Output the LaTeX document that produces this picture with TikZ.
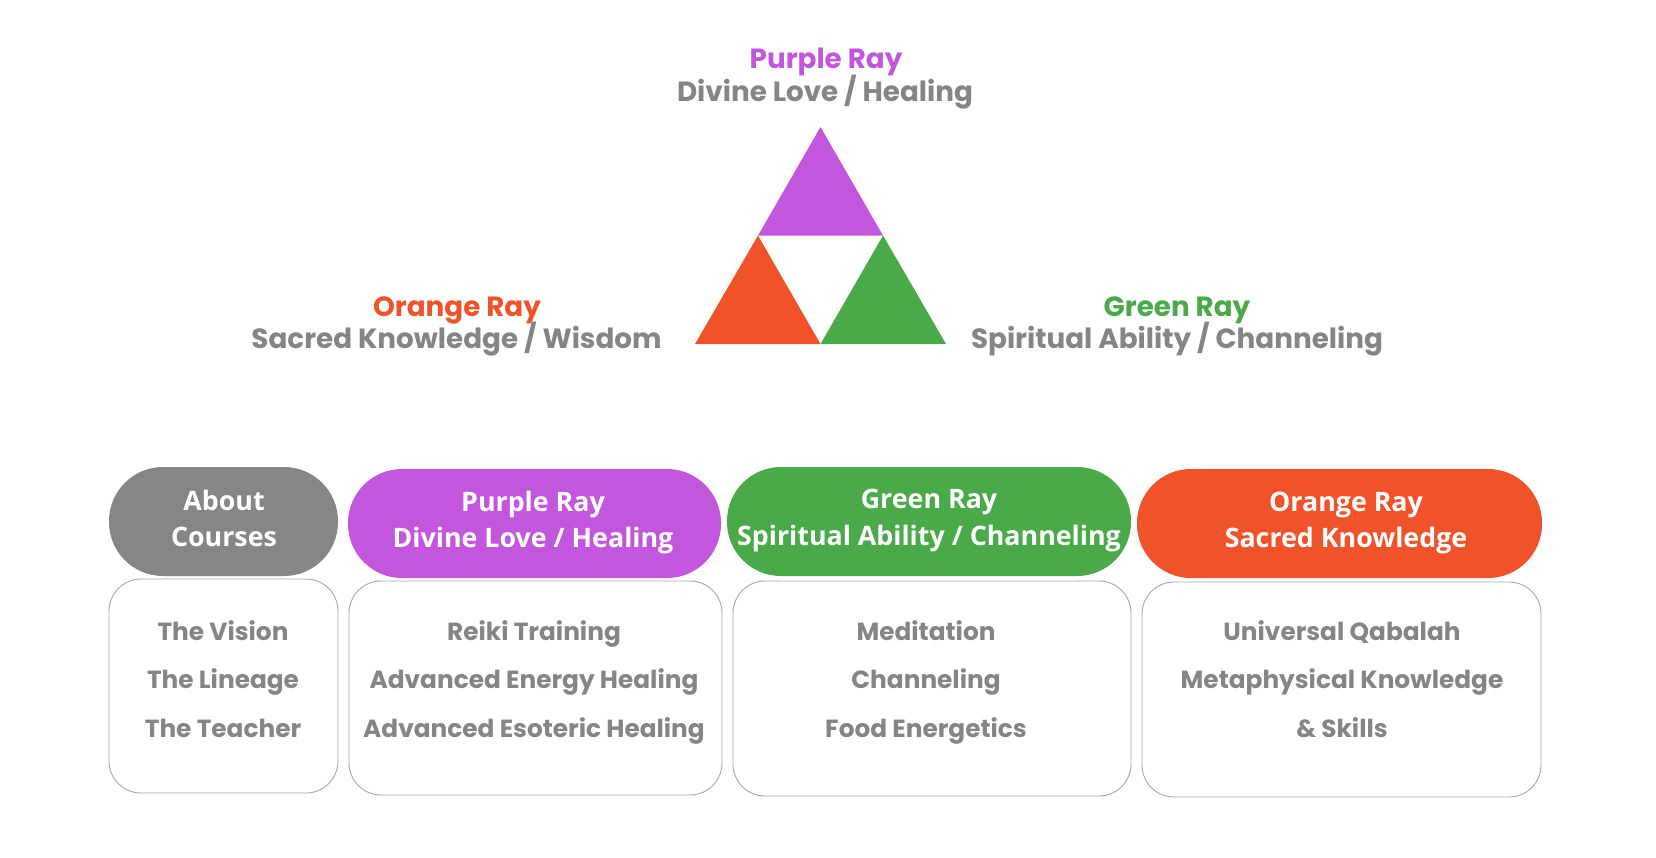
\documentclass[tikz,border=0pt]{standalone}
\usepackage{fontspec}
\setmainfont{Poppins}
\newfontfamily\pillfont{Open Sans}
\definecolor{rayPurple}{HTML}{C257DE}
\definecolor{rayOrange}{HTML}{F0532A}
\definecolor{rayGreen}{HTML}{4AA948}
\definecolor{pillGrey}{HTML}{878586}
\definecolor{txtGrey}{HTML}{858585}
\definecolor{lineGrey}{HTML}{A8A8A8}
\tikzset{
  toptxt/.style={anchor=base, inner sep=0pt, font=\fontsize{27.8}{30}\selectfont\bfseries},
  pilltxt/.style={anchor=base, inner sep=0pt, text=white, font=\pillfont\fontsize{26.8}{30}\selectfont\bfseries},
  listtxt/.style={anchor=base, inner sep=0pt, text=txtGrey, font=\fontsize{24.8}{28}\selectfont\bfseries},
  pillbox/.style={draw=none, rounded corners=54pt},
  listbox/.style={draw=lineGrey, line width=0.9pt, fill=white, rounded corners=32pt}
}
\begin{document}
\begin{tikzpicture}[x=1pt,y=-1pt]
\useasboundingbox[fill=white] (0,0) rectangle (1656,857);
% triangle
\coordinate (apex) at (820.5,127);
\coordinate (ml) at (758,235.5);
\coordinate (mr) at (883,235.5);
\coordinate (bl) at (695,344);
\coordinate (bm) at (820.5,344);
\coordinate (br) at (946,344);
\fill[rayPurple] (apex) -- (mr) -- (ml) -- cycle;
\fill[rayOrange] (ml) -- (bm) -- (bl) -- cycle;
\fill[rayGreen] (mr) -- (br) -- (bm) -- cycle;
% top labels
\node[toptxt, text=rayPurple] (tp1) at (826,68) {Purple Ray};
\node[toptxt, text=txtGrey] (tp2) at (825,101) {Divine Love / Healing};
\node[toptxt, text=rayOrange] (to1) at (457,316) {Orange Ray};
\node[toptxt, text=txtGrey] (to2) at (456.5,348) {Sacred Knowledge / Wisdom};
\node[toptxt, text=rayGreen] (tg1) at (1177,316) {Green Ray};
\node[toptxt, text=txtGrey] (tg2) at (1177,348) {Spiritual Ability / Channeling};
% pills
\fill[pillGrey, pillbox] (109,467) rectangle (338,576);
\fill[rayPurple, pillbox] (348,469) rectangle (721,578);
\fill[rayGreen, pillbox] (727,467) rectangle (1131,576);
\fill[rayOrange, pillbox] (1137,469) rectangle (1542,578);
\node[pilltxt] (pa1) at (224,510) {About};
\node[pilltxt] (pa2) at (224,546) {Courses};
\node[pilltxt] (pp1) at (533,511) {Purple Ray};
\node[pilltxt] (pp2) at (533,547) {Divine Love / Healing};
\node[pilltxt] (pg1) at (929,508) {Green Ray};
\node[pilltxt] (pg2) at (929,545) {Spiritual Ability / Channeling};
\node[pilltxt] (po1) at (1346,511) {Orange Ray};
\node[pilltxt] (po2) at (1346,547) {Sacred Knowledge};
% list boxes
\draw[listbox] (109,579) rectangle (338,793);
\draw[listbox] (349,581) rectangle (722,795);
\draw[listbox] (733,581) rectangle (1131,796);
\draw[listbox] (1142,582) rectangle (1541,797);
\node[listtxt] (la1) at (223,640) {The Vision};
\node[listtxt] (la2) at (223,688) {The Lineage};
\node[listtxt] (la3) at (223,737) {The Teacher};
\node[listtxt] (lp1) at (534,640) {Reiki Training};
\node[listtxt] (lp2) at (534,688) {Advanced Energy Healing};
\node[listtxt] (lp3) at (534,737) {Advanced Esoteric Healing};
\node[listtxt] (lg1) at (926,640) {Meditation};
\node[listtxt] (lg2) at (926,688) {Channeling};
\node[listtxt] (lg3) at (926,737) {Food Energetics};
\node[listtxt] (lo1) at (1342,640) {Universal Qabalah};
\node[listtxt] (lo2) at (1342,688) {Metaphysical Knowledge};
\node[listtxt] (lo3) at (1342,737) {\& Skills};
\end{tikzpicture}
\end{document}
